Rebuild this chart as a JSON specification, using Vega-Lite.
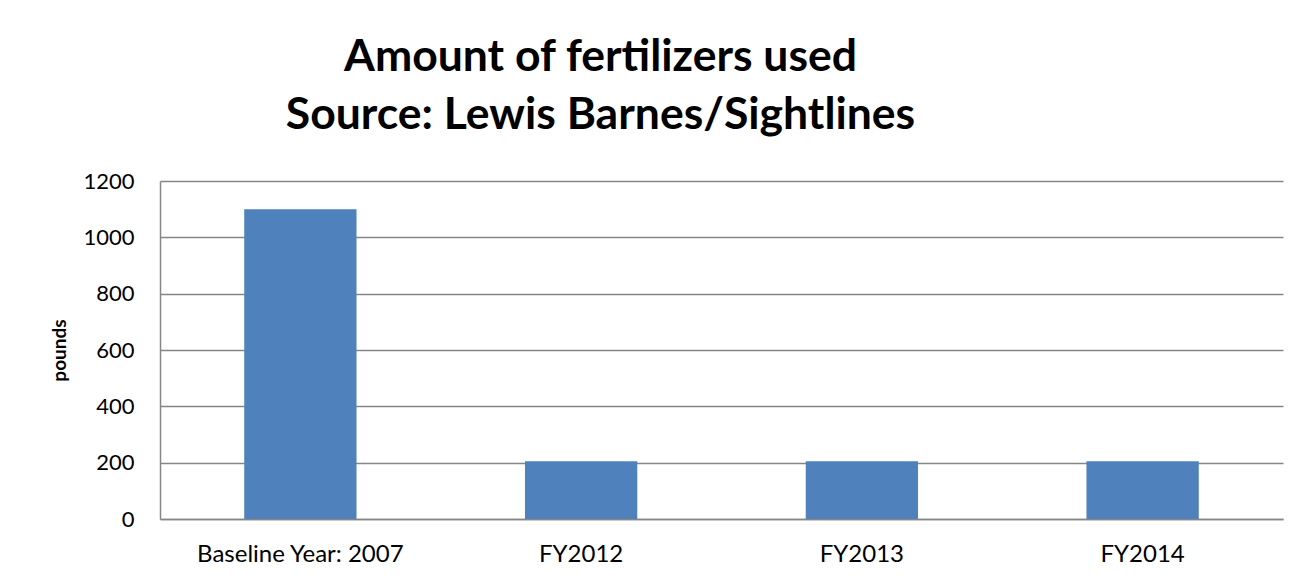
{
  "$schema": "https://vega.github.io/schema/vega-lite/v6.json",
  "width": 1123,
  "height": 338,
  "autosize": {"type": "none"},
  "padding": {"left": 160, "top": 181, "right": 24, "bottom": 60},
  "background": "white",
  "title": {
    "text": ["Amount of fertilizers used", "Source: Lewis Barnes/Sightlines"],
    "font": "Lato",
    "fontSize": 44.5,
    "fontWeight": "bold",
    "color": "#000000",
    "lineHeight": 58,
    "anchor": "middle",
    "frame": "group",
    "baseline": "alphabetic",
    "offset": 48,
    "dx": -121,
    "dy": 51
  },
  "data": {
    "values": [
      {"period": "Baseline Year: 2007", "pounds": 1100},
      {"period": "FY2012", "pounds": 205},
      {"period": "FY2013", "pounds": 205},
      {"period": "FY2014", "pounds": 205}
    ]
  },
  "mark": {"type": "bar", "color": "#4F81BD"},
  "encoding": {
    "x": {
      "field": "period",
      "type": "nominal",
      "sort": null,
      "scale": {"paddingInner": 0.6, "paddingOuter": 0.3},
      "axis": {
        "title": null,
        "labelAngle": 0,
        "labelFont": "Lato",
        "labelFontSize": 24,
        "labelLimit": 0,
        "labelColor": "#000000",
        "labelPadding": 23,
        "ticks": false,
        "domainColor": "#868686",
        "domainWidth": 1.5
      }
    },
    "y": {
      "field": "pounds",
      "type": "quantitative",
      "scale": {"domain": [0, 1200]},
      "axis": {
        "title": "pounds",
        "titleFont": "Lato",
        "titleFontSize": 19,
        "titleFontWeight": "bold",
        "titleColor": "#000000",
        "titlePadding": 13,
        "values": [0, 200, 400, 600, 800, 1000, 1200],
        "format": "d",
        "labelFont": "Lato",
        "labelFontSize": 22,
        "labelColor": "#000000",
        "labelPadding": 26,
        "ticks": false,
        "domainColor": "#868686",
        "domainWidth": 1.5,
        "gridColor": "#868686",
        "gridWidth": 1.5
      }
    }
  },
  "config": {"view": {"stroke": null}}
}
